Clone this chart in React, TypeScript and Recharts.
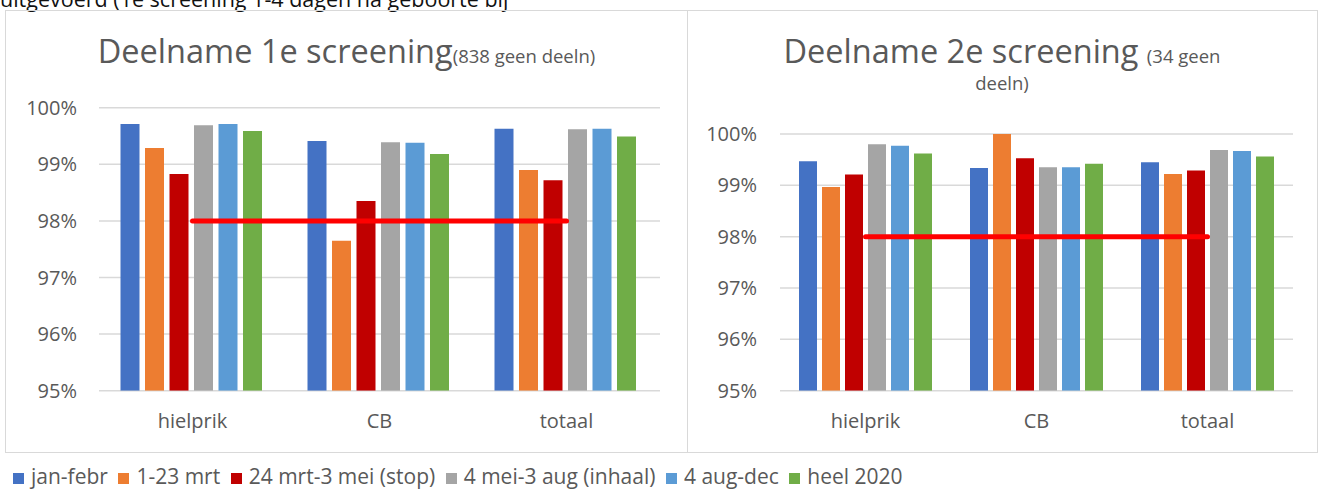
import { BarChart, Bar, XAxis, YAxis, CartesianGrid, ReferenceLine, Legend } from "recharts";

const categories = ["hielprik", "CB", "totaal"];
const periods = [
  "jan-febr",
  "1-23 mrt",
  "24 mrt-3 mei (stop)",
  "4 mei-3 aug (inhaal)",
  "4 aug-dec",
  "heel 2020",
];
const colors = ["#4472C4", "#ED7D31", "#C00000", "#A5A5A5", "#5B9BD5", "#70AD47"];

// 1e screening, values per category (hielprik, CB, totaal)
const s1JanFebr = [99.71, 99.41, 99.63];
const s1Mrt = [99.29, 97.65, 98.9];
const s1Stop = [98.83, 98.35, 98.72];
const s1Inhaal = [99.69, 99.39, 99.62];
const s1AugDec = [99.71, 99.38, 99.63];
const s1Heel = [99.59, 99.18, 99.49];

// 2e screening
const s2JanFebr = [99.47, 99.34, 99.45];
const s2Mrt = [98.97, 100.0, 99.22];
const s2Stop = [99.21, 99.53, 99.29];
const s2Inhaal = [99.8, 99.35, 99.69];
const s2AugDec = [99.77, 99.35, 99.67];
const s2Heel = [99.62, 99.42, 99.56];

const yTicks = [95, 96, 97, 98, 99, 100];
const target = 98;

const buildRows = (series: number[][]) =>
  categories.map((cat, i) => {
    const row: Record<string, string | number> = { cat };
    series.forEach((s, j) => {
      row[periods[j]] = s[i];
    });
    return row;
  });

const rows1 = buildRows([s1JanFebr, s1Mrt, s1Stop, s1Inhaal, s1AugDec, s1Heel]);
const rows2 = buildRows([s2JanFebr, s2Mrt, s2Stop, s2Inhaal, s2AugDec, s2Heel]);

const FONT = "'Open Sans', sans-serif";
const GREY = "#595959";
const tickStyle = { fontSize: 20, fill: GREY, fontFamily: FONT };

function LegendContent({ payload }: any) {
  const items = [...(payload || [])].sort(
    (a: any, b: any) => periods.indexOf(a.value) - periods.indexOf(b.value)
  );
  return (
    <div style={{ whiteSpace: "nowrap", fontSize: 21, color: GREY, fontFamily: FONT, lineHeight: "28px" }}>
      {items.map((e: any) => (
        <span key={e.value} style={{ display: "inline-block", marginRight: 10.5 }}>
          <span
            style={{
              display: "inline-block",
              width: 11,
              height: 11,
              background: e.color,
              marginRight: 7,
              verticalAlign: "baseline",
            }}
          />
          {e.value}
        </span>
      ))}
    </div>
  );
}

export default function App() {
  return (
    <div
      style={{
        position: "absolute",
        left: 0,
        top: 0,
        width: 1323,
        height: 489,
        background: "#fff",
        overflow: "hidden",
        fontFamily: FONT,
      }}
    >
      <div style={{ position: "absolute", left: 0, top: -15.8, fontSize: 21.5, color: "#111", whiteSpace: "nowrap" }}>
        uitgevoerd (1e screening 1-4 dagen na geboorte bij
      </div>

      {/* panel frames */}
      <div
        style={{
          position: "absolute",
          left: 5,
          top: 10,
          width: 683,
          height: 443,
          border: "1.5px solid #D9D9D9",
          boxSizing: "border-box",
        }}
      />
      <div
        style={{
          position: "absolute",
          left: 686.5,
          top: 10,
          width: 631,
          height: 443,
          border: "1.5px solid #D9D9D9",
          boxSizing: "border-box",
        }}
      />

      {/* titles */}
      <div
        style={{
          position: "absolute",
          left: 5,
          width: 683,
          top: 34.6,
          textAlign: "center",
          fontSize: 32.5,
          lineHeight: "32.5px",
          color: GREY,
          whiteSpace: "nowrap",
        }}
      >
        Deelname 1e screening<span style={{ fontSize: 18.5 }}>(838 geen deeln)</span>
      </div>
      <div
        style={{
          position: "absolute",
          left: 687,
          width: 630,
          top: 34.6,
          textAlign: "center",
          fontSize: 32.5,
          lineHeight: "32.5px",
          color: GREY,
          whiteSpace: "nowrap",
        }}
      >
        Deelname 2e screening <span style={{ fontSize: 18.5 }}>(34 geen</span>
      </div>
      <div
        style={{
          position: "absolute",
          left: 687,
          width: 630,
          top: 73.6,
          textAlign: "center",
          fontSize: 18.5,
          lineHeight: "18.5px",
          color: GREY,
        }}
      >
        deeln)
      </div>

      {/* 1e screening */}
      <div style={{ position: "absolute", left: 0, top: 0 }}>
        <BarChart
          width={687}
          height={489}
          data={rows1}
          margin={{ top: 107.7, right: 27, left: 0, bottom: 58.3 }}
          barCategoryGap={21.5}
          barGap={5.5}
        >
          <CartesianGrid vertical={false} stroke="#D9D9D9" strokeWidth={1.5} />
          <XAxis
            dataKey="cat"
            axisLine={false}
            tickLine={false}
            height={40}
            tickMargin={17}
            tick={tickStyle}
          />
          <YAxis
            type="number"
            domain={[95, 100]}
            ticks={yTicks}
            allowDataOverflow
            width={99}
            axisLine={false}
            tickLine={false}
            tickMargin={16}
            tick={tickStyle}
            tickFormatter={(v) => `${v}%`}
          />
          {periods.map((p, i) => (
            <Bar key={p} dataKey={p} fill={colors[i]} isAnimationActive={false} />
          ))}
          <ReferenceLine
            segment={[
              { x: categories[0], y: target },
              { x: categories[2], y: target },
            ]}
            stroke="#FF0000"
            strokeWidth={5}
            strokeLinecap="round"
          />
          <Legend
            layout="horizontal"
            verticalAlign="middle"
            align="center"
            content={<LegendContent />}
            wrapperStyle={{ left: 13, top: 462, width: 1000, height: 28 }}
          />
        </BarChart>
      </div>

      {/* 2e screening */}
      <div style={{ position: "absolute", left: 687, top: 0 }}>
        <BarChart
          width={630}
          height={453}
          data={rows2}
          margin={{ top: 134, right: 24, left: 0, bottom: 22.3 }}
          barCategoryGap={19}
          barGap={5}
        >
          <CartesianGrid vertical={false} stroke="#D9D9D9" strokeWidth={1.5} />
          <XAxis
            dataKey="cat"
            axisLine={false}
            tickLine={false}
            height={40}
            tickMargin={17}
            tick={tickStyle}
          />
          <YAxis
            type="number"
            domain={[95, 100]}
            ticks={yTicks}
            allowDataOverflow
            width={93}
            axisLine={false}
            tickLine={false}
            tickMargin={17}
            tick={tickStyle}
            tickFormatter={(v) => `${v}%`}
          />
          {periods.map((p, i) => (
            <Bar key={p} dataKey={p} fill={colors[i]} isAnimationActive={false} />
          ))}
          <ReferenceLine
            segment={[
              { x: categories[0], y: target },
              { x: categories[2], y: target },
            ]}
            stroke="#FF0000"
            strokeWidth={5}
            strokeLinecap="round"
          />
        </BarChart>
      </div>
    </div>
  );
}
